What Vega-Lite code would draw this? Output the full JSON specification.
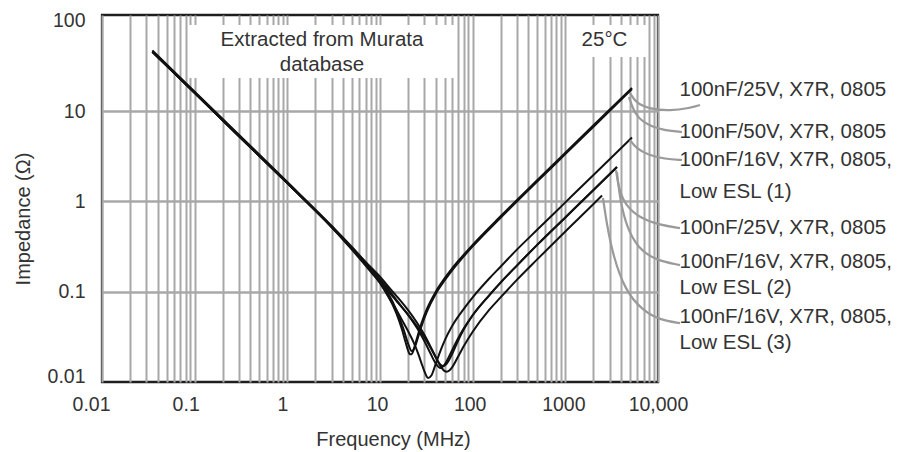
{
  "$schema": "https://vega.github.io/schema/vega-lite/v6.json",
  "width": 556,
  "height": 367,
  "autosize": {"type": "none"},
  "padding": {"left": 102, "top": 15, "right": 242, "bottom": 70},
  "background": "white",
  "config": {
    "font": "Liberation Sans",
    "view": {"stroke": "#1e1e1e", "strokeWidth": 2.3},
    "axis": {"titleFontWeight": "normal", "titleColor": "#333333", "labelColor": "#333333"}
  },
  "datasets": {
    "boxes": [
      {"f": 0.0847, "f2": 64.4, "z": 23.2, "z2": 89.6},
      {"f": 1271, "f2": 7413, "z": 39.6, "z2": 89.6}
    ],
    "curves": [
      {"s": "A1", "f": 0.035, "z": 45.4}, {"s": "A1", "f": 0.1, "z": 15.9}, {"s": "A1", "f": 0.3, "z": 5.3}, {"s": "A1", "f": 1, "z": 1.59}, {"s": "A1", "f": 3, "z": 0.52}, {"s": "A1", "f": 5, "z": 0.301}, {"s": "A1", "f": 8, "z": 0.171}, {"s": "A1", "f": 10, "z": 0.125}, {"s": "A1", "f": 12, "z": 0.0933}, {"s": "A1", "f": 15, "z": 0.0579}, {"s": "A1", "f": 17, "z": 0.0401}, {"s": "A1", "f": 19, "z": 0.027}, {"s": "A1", "f": 20, "z": 0.0226}, {"s": "A1", "f": 21, "z": 0.0203}, {"s": "A1", "f": 22, "z": 0.0203}, {"s": "A1", "f": 23, "z": 0.0225}, {"s": "A1", "f": 25, "z": 0.0303}, {"s": "A1", "f": 28, "z": 0.0447}, {"s": "A1", "f": 32, "z": 0.0641}, {"s": "A1", "f": 40, "z": 0.1}, {"s": "A1", "f": 50, "z": 0.141}, {"s": "A1", "f": 60, "z": 0.181}, {"s": "A1", "f": 74, "z": 0.234}, {"s": "A1", "f": 100, "z": 0.33}, {"s": "A1", "f": 200, "z": 0.683}, {"s": "A1", "f": 500, "z": 1.725}, {"s": "A1", "f": 1000, "z": 3.456}, {"s": "A1", "f": 2000, "z": 6.91}, {"s": "A1", "f": 5240, "z": 18.0},
      {"s": "A2", "f": 0.035, "z": 46.9}, {"s": "A2", "f": 0.1, "z": 16.4}, {"s": "A2", "f": 0.3, "z": 5.47}, {"s": "A2", "f": 1, "z": 1.64}, {"s": "A2", "f": 3, "z": 0.537}, {"s": "A2", "f": 5, "z": 0.311}, {"s": "A2", "f": 8, "z": 0.178}, {"s": "A2", "f": 10, "z": 0.131}, {"s": "A2", "f": 12, "z": 0.099}, {"s": "A2", "f": 15, "z": 0.063}, {"s": "A2", "f": 18, "z": 0.038}, {"s": "A2", "f": 20, "z": 0.027}, {"s": "A2", "f": 22, "z": 0.022}, {"s": "A2", "f": 24, "z": 0.025}, {"s": "A2", "f": 26, "z": 0.0323}, {"s": "A2", "f": 28, "z": 0.0413}, {"s": "A2", "f": 32, "z": 0.0596}, {"s": "A2", "f": 40, "z": 0.0948}, {"s": "A2", "f": 50, "z": 0.134}, {"s": "A2", "f": 60, "z": 0.1725}, {"s": "A2", "f": 74, "z": 0.224}, {"s": "A2", "f": 100, "z": 0.317}, {"s": "A2", "f": 200, "z": 0.658}, {"s": "A2", "f": 500, "z": 1.665}, {"s": "A2", "f": 1000, "z": 3.33}, {"s": "A2", "f": 2000, "z": 6.66}, {"s": "A2", "f": 5240, "z": 17.5},
      {"s": "B", "f": 0.035, "z": 45.4}, {"s": "B", "f": 0.1, "z": 15.9}, {"s": "B", "f": 0.3, "z": 5.3}, {"s": "B", "f": 1, "z": 1.59}, {"s": "B", "f": 3, "z": 0.52}, {"s": "B", "f": 5, "z": 0.29}, {"s": "B", "f": 8, "z": 0.165}, {"s": "B", "f": 10, "z": 0.125}, {"s": "B", "f": 12, "z": 0.092}, {"s": "B", "f": 15, "z": 0.063}, {"s": "B", "f": 18, "z": 0.045}, {"s": "B", "f": 20, "z": 0.037}, {"s": "B", "f": 23, "z": 0.0276}, {"s": "B", "f": 26, "z": 0.0202}, {"s": "B", "f": 28, "z": 0.0162}, {"s": "B", "f": 30, "z": 0.0133}, {"s": "B", "f": 33, "z": 0.0111}, {"s": "B", "f": 36, "z": 0.0119}, {"s": "B", "f": 40, "z": 0.016}, {"s": "B", "f": 45, "z": 0.0223}, {"s": "B", "f": 50, "z": 0.0289}, {"s": "B", "f": 60, "z": 0.0416}, {"s": "B", "f": 80, "z": 0.0642}, {"s": "B", "f": 100, "z": 0.0864}, {"s": "B", "f": 150, "z": 0.139}, {"s": "B", "f": 200, "z": 0.189}, {"s": "B", "f": 300, "z": 0.292}, {"s": "B", "f": 500, "z": 0.487}, {"s": "B", "f": 1000, "z": 0.974}, {"s": "B", "f": 2000, "z": 1.948}, {"s": "B", "f": 5240, "z": 5.1},
      {"s": "C1", "f": 0.035, "z": 45.4}, {"s": "C1", "f": 0.1, "z": 15.9}, {"s": "C1", "f": 0.3, "z": 5.3}, {"s": "C1", "f": 1, "z": 1.59}, {"s": "C1", "f": 3, "z": 0.525}, {"s": "C1", "f": 5, "z": 0.3}, {"s": "C1", "f": 8, "z": 0.178}, {"s": "C1", "f": 10, "z": 0.138}, {"s": "C1", "f": 12, "z": 0.11}, {"s": "C1", "f": 15, "z": 0.081}, {"s": "C1", "f": 20, "z": 0.0557}, {"s": "C1", "f": 25, "z": 0.0398}, {"s": "C1", "f": 30, "z": 0.0286}, {"s": "C1", "f": 35, "z": 0.0208}, {"s": "C1", "f": 40, "z": 0.016}, {"s": "C1", "f": 45, "z": 0.0143}, {"s": "C1", "f": 50, "z": 0.0157}, {"s": "C1", "f": 55, "z": 0.0187}, {"s": "C1", "f": 60, "z": 0.0225}, {"s": "C1", "f": 70, "z": 0.0307}, {"s": "C1", "f": 80, "z": 0.039}, {"s": "C1", "f": 100, "z": 0.0548}, {"s": "C1", "f": 150, "z": 0.0906}, {"s": "C1", "f": 200, "z": 0.126}, {"s": "C1", "f": 300, "z": 0.1945}, {"s": "C1", "f": 500, "z": 0.3315}, {"s": "C1", "f": 1000, "z": 0.663}, {"s": "C1", "f": 2000, "z": 1.326}, {"s": "C1", "f": 3606, "z": 2.4},
      {"s": "C2", "f": 0.035, "z": 45.4}, {"s": "C2", "f": 0.1, "z": 15.9}, {"s": "C2", "f": 0.3, "z": 5.3}, {"s": "C2", "f": 1, "z": 1.59}, {"s": "C2", "f": 3, "z": 0.527}, {"s": "C2", "f": 5, "z": 0.305}, {"s": "C2", "f": 8, "z": 0.185}, {"s": "C2", "f": 10, "z": 0.147}, {"s": "C2", "f": 12, "z": 0.117}, {"s": "C2", "f": 15, "z": 0.09}, {"s": "C2", "f": 20, "z": 0.0628}, {"s": "C2", "f": 25, "z": 0.0455}, {"s": "C2", "f": 30, "z": 0.0335}, {"s": "C2", "f": 35, "z": 0.0248}, {"s": "C2", "f": 40, "z": 0.0188}, {"s": "C2", "f": 45, "z": 0.0155}, {"s": "C2", "f": 48, "z": 0.015}, {"s": "C2", "f": 52, "z": 0.0158}, {"s": "C2", "f": 56, "z": 0.0178}, {"s": "C2", "f": 60, "z": 0.0204}, {"s": "C2", "f": 70, "z": 0.029}, {"s": "C2", "f": 80, "z": 0.038}, {"s": "C2", "f": 100, "z": 0.0548}, {"s": "C2", "f": 150, "z": 0.0906}, {"s": "C2", "f": 200, "z": 0.126}, {"s": "C2", "f": 300, "z": 0.1945}, {"s": "C2", "f": 500, "z": 0.3315}, {"s": "C2", "f": 1000, "z": 0.663}, {"s": "C2", "f": 2000, "z": 1.326}, {"s": "C2", "f": 3606, "z": 2.4},
      {"s": "D", "f": 0.035, "z": 45.4}, {"s": "D", "f": 0.1, "z": 15.9}, {"s": "D", "f": 0.3, "z": 5.3}, {"s": "D", "f": 1, "z": 1.59}, {"s": "D", "f": 3, "z": 0.525}, {"s": "D", "f": 5, "z": 0.295}, {"s": "D", "f": 8, "z": 0.175}, {"s": "D", "f": 10, "z": 0.132}, {"s": "D", "f": 12, "z": 0.104}, {"s": "D", "f": 15, "z": 0.0793}, {"s": "D", "f": 20, "z": 0.0561}, {"s": "D", "f": 25, "z": 0.0416}, {"s": "D", "f": 30, "z": 0.0315}, {"s": "D", "f": 35, "z": 0.0241}, {"s": "D", "f": 40, "z": 0.0187}, {"s": "D", "f": 45, "z": 0.015}, {"s": "D", "f": 50, "z": 0.0132}, {"s": "D", "f": 52.5, "z": 0.013}, {"s": "D", "f": 56, "z": 0.0134}, {"s": "D", "f": 60, "z": 0.0145}, {"s": "D", "f": 70, "z": 0.0193}, {"s": "D", "f": 80, "z": 0.0248}, {"s": "D", "f": 100, "z": 0.036}, {"s": "D", "f": 150, "z": 0.0625}, {"s": "D", "f": 200, "z": 0.0864}, {"s": "D", "f": 300, "z": 0.135}, {"s": "D", "f": 500, "z": 0.229}, {"s": "D", "f": 1000, "z": 0.464}, {"s": "D", "f": 2000, "z": 0.928}, {"s": "D", "f": 2489, "z": 1.16}
    ],
    "callouts": [
      {"s": "c1", "i": 1, "f": 4986, "z": 15.83}, {"s": "c1", "i": 2, "f": 5781, "z": 12.26}, {"s": "c1", "i": 3, "f": 8185, "z": 10.52}, {"s": "c1", "i": 4, "f": 13460, "z": 10.0}, {"s": "c1", "i": 5, "f": 22130, "z": 10.8}, {"s": "c1", "i": 6, "f": 28380, "z": 11.65},
      {"s": "c2", "i": 1, "f": 4862, "z": 14.29}, {"s": "c2", "i": 2, "f": 5508, "z": 9.5}, {"s": "c2", "i": 3, "f": 7244, "z": 7.18}, {"s": "c2", "i": 4, "f": 11040, "z": 6.16}, {"s": "c2", "i": 5, "f": 18150, "z": 5.85},
      {"s": "c3", "i": 1, "f": 4986, "z": 4.77}, {"s": "c3", "i": 2, "f": 5781, "z": 3.89}, {"s": "c3", "i": 3, "f": 7798, "z": 3.26}, {"s": "c3", "i": 4, "f": 11890, "z": 2.94}, {"s": "c3", "i": 5, "f": 18150, "z": 2.87},
      {"s": "c4", "i": 1, "f": 3522, "z": 2.22}, {"s": "c4", "i": 2, "f": 3793, "z": 1.334}, {"s": "c4", "i": 3, "f": 4511, "z": 0.887}, {"s": "c4", "i": 4, "f": 6397, "z": 0.653}, {"s": "c4", "i": 5, "f": 10500, "z": 0.547}, {"s": "c4", "i": 6, "f": 17260, "z": 0.506},
      {"s": "c5", "i": 1, "f": 3606, "z": 2.11}, {"s": "c5", "i": 2, "f": 3890, "z": 1.033}, {"s": "c5", "i": 3, "f": 4624, "z": 0.506}, {"s": "c5", "i": 4, "f": 6081, "z": 0.304}, {"s": "c5", "i": 5, "f": 9268, "z": 0.224}, {"s": "c5", "i": 6, "f": 17260, "z": 0.197},
      {"s": "c6", "i": 1, "f": 2548, "z": 1.088}, {"s": "c6", "i": 2, "f": 2812, "z": 0.547}, {"s": "c6", "i": 3, "f": 3266, "z": 0.254}, {"s": "c6", "i": 4, "f": 4404, "z": 0.104}, {"s": "c6", "i": 5, "f": 6714, "z": 0.0625}, {"s": "c6", "i": 6, "f": 10500, "z": 0.0485}, {"s": "c6", "i": 7, "f": 17260, "z": 0.0449}
    ],
    "notes": [
      {"t": "Extracted from Murata", "f": 2.366, "z": 61.1},
      {"t": "database", "f": 2.366, "z": 32.3},
      {"t": "25°C", "f": 2646, "z": 61.1}
    ],
    "labels": [
      {"t": "100nF/25V, X7R, 0805", "f": 17060, "z": 17.1},
      {"t": "100nF/50V, X7R, 0805", "f": 17060, "z": 5.9},
      {"t": "100nF/16V, X7R, 0805,", "f": 17060, "z": 2.87},
      {"t": "Low ESL (1)", "f": 17060, "z": 1.277},
      {"t": "100nF/25V, X7R, 0805", "f": 17060, "z": 0.502},
      {"t": "100nF/16V, X7R, 0805,", "f": 17060, "z": 0.2143},
      {"t": "Low ESL (2)", "f": 17060, "z": 0.1088},
      {"t": "100nF/16V, X7R, 0805,", "f": 17060, "z": 0.0527},
      {"t": "Low ESL (3)", "f": 17060, "z": 0.02674}
    ]
  },
  "layer": [
    {
      "data": {"name": "boxes"},
      "mark": {"type": "rect", "fill": "white", "stroke": null},
      "encoding": {
        "x": {"field": "f", "type": "quantitative", "scale": {"type": "log", "domain": [0.01, 10000], "nice": false}},
        "x2": {"field": "f2"},
        "y": {"field": "z", "type": "quantitative", "scale": {"type": "log", "domain": [0.01, 115.6], "nice": false}},
        "y2": {"field": "z2"}
      }
    },
    {
      "data": {"name": "curves"},
      "mark": {"type": "line", "color": "#111111", "strokeWidth": 2, "interpolate": "monotone"},
      "encoding": {
        "detail": {"field": "s"},
        "x": {
          "field": "f", "type": "quantitative",
          "scale": {"type": "log", "domain": [0.01, 10000], "nice": false},
          "axis": {
            "title": "Frequency (MHz)",
            "values": [0.01, 0.02, 0.03, 0.04, 0.05, 0.06, 0.07, 0.08, 0.09, 0.1, 0.2, 0.3, 0.4, 0.5, 0.6, 0.7, 0.8, 0.9, 1, 2, 3, 4, 5, 6, 7, 8, 9, 10, 20, 30, 40, 50, 60, 70, 80, 90, 100, 200, 300, 400, 500, 600, 700, 800, 900, 1000, 2000, 3000, 4000, 5000, 6000, 7000, 8000, 9000, 10000],
            "labelExpr": "datum.value == 0.01 ? '0.01' : datum.value == 0.1 ? '0.1' : datum.value == 1 ? '1' : datum.value == 10 ? '10' : datum.value == 100 ? '100' : datum.value == 1000 ? '1000' : datum.value == 10000 ? '10,000' : ''",
            "labelOffset": {"condition": [{"test": "datum.value == 0.01", "value": -11}, {"test": "datum.value == 0.1", "value": -9}, {"test": "datum.value == 1", "value": -5}, {"test": "datum.value == 10 || datum.value == 100", "value": -3}, {"test": "datum.value == 1000", "value": -2}], "value": 0},
            "grid": true, "gridColor": "#a8a8a8", "gridWidth": 2,
            "ticks": false, "domain": false,
            "labelFontSize": 19.5, "labelPadding": 13, "labelOverlap": false, "labelFlush": false, "labelBound": false,
            "titleFontSize": 20, "titleX": 291, "titleY": 63, "titleBaseline": "alphabetic", "titleAlign": "center", "titleAnchor": null
          }
        },
        "y": {
          "field": "z", "type": "quantitative",
          "scale": {"type": "log", "domain": [0.01, 115.6], "nice": false},
          "axis": {
            "title": "Impedance (Ω)",
            "values": [0.01, 0.1, 1, 10, 100],
            "labelExpr": "datum.value == 0.01 ? '0.01' : datum.value == 0.1 ? '0.1' : datum.value == 1 ? '1' : datum.value == 10 ? '10' : '100'",
            "labelOffset": {"condition": {"test": "datum.value == 0.01", "value": -6}, "value": 0},
            "grid": true, "gridColor": "#a8a8a8", "gridWidth": 2.5,
            "gridOpacity": {"condition": {"test": "datum.value == 100 || datum.value == 0.01", "value": 0}, "value": 1},
            "ticks": false, "domain": false,
            "labelFontSize": 19.5, "labelPadding": 17, "labelOverlap": false, "labelFlush": false, "labelBound": false,
            "titleFontSize": 20, "titleAngle": -90, "titleX": -73, "titleY": 203.5, "titleBaseline": "alphabetic", "titleAlign": "center", "titleAnchor": null
          }
        }
      }
    },
    {
      "data": {"name": "callouts"},
      "mark": {"type": "line", "color": "#9a9a9a", "strokeWidth": 2.2, "interpolate": "basis"},
      "encoding": {
        "detail": {"field": "s"},
        "order": {"field": "i", "type": "quantitative"},
        "x": {"field": "f", "type": "quantitative"},
        "y": {"field": "z", "type": "quantitative"}
      }
    },
    {
      "data": {"name": "notes"},
      "mark": {"type": "text", "font": "Liberation Sans", "fontSize": 20.5, "color": "#333333", "align": "center", "baseline": "middle"},
      "encoding": {
        "text": {"field": "t"},
        "x": {"field": "f", "type": "quantitative"},
        "y": {"field": "z", "type": "quantitative"}
      }
    },
    {
      "data": {"name": "labels"},
      "mark": {"type": "text", "font": "Liberation Sans", "fontSize": 20.5, "color": "#333333", "align": "left", "baseline": "middle"},
      "encoding": {
        "text": {"field": "t"},
        "x": {"field": "f", "type": "quantitative"},
        "y": {"field": "z", "type": "quantitative"}
      }
    }
  ]
}
